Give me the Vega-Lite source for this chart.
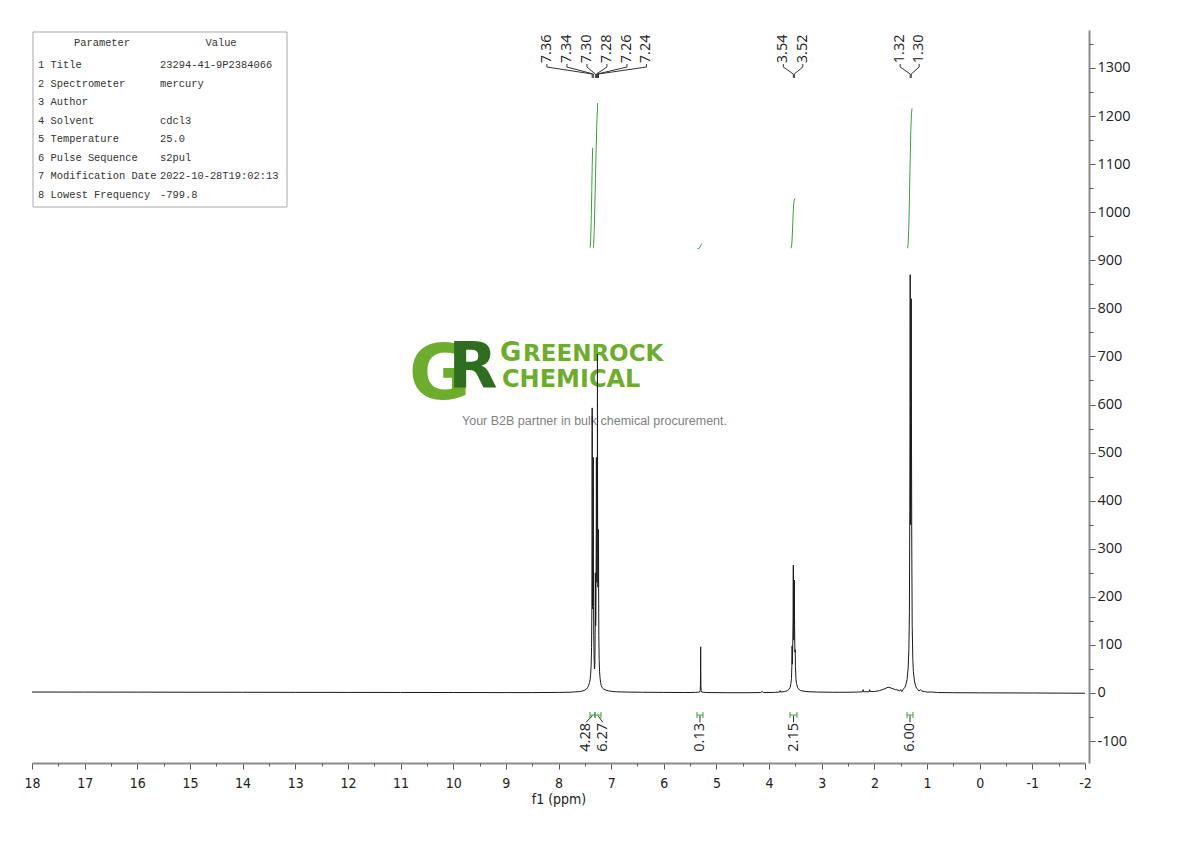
{
  "$schema": "https://vega.github.io/schema/vega-lite/v6.json",
  "width": 1053,
  "height": 733,
  "autosize": {"type": "none"},
  "padding": {"left": 32, "top": 30, "right": 105, "bottom": 78},
  "background": "white",
  "config": {"view": {"stroke": null}},
  "datasets": {
    "spectrum": [
      {"ppm": 18, "v": 2}, {"ppm": 17, "v": 1.9}, {"ppm": 16, "v": 1.8}, {"ppm": 15, "v": 1.6}, {"ppm": 14, "v": 1.5},
      {"ppm": 13, "v": 1.3}, {"ppm": 12, "v": 1.2}, {"ppm": 11, "v": 1.1}, {"ppm": 10, "v": 1}, {"ppm": 9, "v": 0.9},
      {"ppm": 8.5, "v": 0.9}, {"ppm": 8.0, "v": 1.2}, {"ppm": 7.8, "v": 1.6}, {"ppm": 7.7, "v": 2.2}, {"ppm": 7.6, "v": 3},
      {"ppm": 7.55, "v": 4}, {"ppm": 7.5, "v": 6}, {"ppm": 7.47, "v": 8}, {"ppm": 7.45, "v": 11}, {"ppm": 7.43, "v": 15},
      {"ppm": 7.41, "v": 22}, {"ppm": 7.4, "v": 28}, {"ppm": 7.39, "v": 38}, {"ppm": 7.38, "v": 58}, {"ppm": 7.372, "v": 95},
      {"ppm": 7.366, "v": 180}, {"ppm": 7.3625, "v": 330}, {"ppm": 7.36, "v": 593}, {"ppm": 7.3575, "v": 330}, {"ppm": 7.354, "v": 180},
      {"ppm": 7.35, "v": 175}, {"ppm": 7.346, "v": 230}, {"ppm": 7.3425, "v": 330}, {"ppm": 7.34, "v": 490}, {"ppm": 7.3375, "v": 300},
      {"ppm": 7.334, "v": 180}, {"ppm": 7.33, "v": 120}, {"ppm": 7.324, "v": 75}, {"ppm": 7.318, "v": 52}, {"ppm": 7.314, "v": 50},
      {"ppm": 7.31, "v": 60}, {"ppm": 7.306, "v": 95}, {"ppm": 7.3025, "v": 160}, {"ppm": 7.3, "v": 250}, {"ppm": 7.2975, "v": 170},
      {"ppm": 7.294, "v": 140}, {"ppm": 7.29, "v": 160}, {"ppm": 7.2855, "v": 260}, {"ppm": 7.2825, "v": 340}, {"ppm": 7.28, "v": 490},
      {"ppm": 7.2775, "v": 330}, {"ppm": 7.274, "v": 240}, {"ppm": 7.27, "v": 230}, {"ppm": 7.266, "v": 300}, {"ppm": 7.2625, "v": 430},
      {"ppm": 7.26, "v": 705}, {"ppm": 7.2575, "v": 430}, {"ppm": 7.254, "v": 260}, {"ppm": 7.25, "v": 220}, {"ppm": 7.246, "v": 250},
      {"ppm": 7.2425, "v": 280}, {"ppm": 7.24, "v": 340}, {"ppm": 7.2375, "v": 210}, {"ppm": 7.234, "v": 120}, {"ppm": 7.228, "v": 70},
      {"ppm": 7.22, "v": 45}, {"ppm": 7.21, "v": 30}, {"ppm": 7.2, "v": 22}, {"ppm": 7.19, "v": 16}, {"ppm": 7.17, "v": 11},
      {"ppm": 7.14, "v": 8}, {"ppm": 7.1, "v": 6}, {"ppm": 7.05, "v": 4.5}, {"ppm": 7.0, "v": 3.5}, {"ppm": 6.9, "v": 2.5},
      {"ppm": 6.7, "v": 2}, {"ppm": 6.4, "v": 1.5}, {"ppm": 6.0, "v": 1.2}, {"ppm": 5.6, "v": 1}, {"ppm": 5.4, "v": 1.2},
      {"ppm": 5.32, "v": 2}, {"ppm": 5.31, "v": 5}, {"ppm": 5.305, "v": 15}, {"ppm": 5.302, "v": 45}, {"ppm": 5.3, "v": 96},
      {"ppm": 5.298, "v": 45}, {"ppm": 5.295, "v": 15}, {"ppm": 5.29, "v": 5}, {"ppm": 5.28, "v": 2}, {"ppm": 5.2, "v": 1},
      {"ppm": 4.8, "v": 0.6}, {"ppm": 4.4, "v": 0.6}, {"ppm": 4.16, "v": 1}, {"ppm": 4.13, "v": 3.5}, {"ppm": 4.11, "v": 1},
      {"ppm": 3.9, "v": 1.2}, {"ppm": 3.8, "v": 2}, {"ppm": 3.79, "v": 5}, {"ppm": 3.78, "v": 2}, {"ppm": 3.7, "v": 3},
      {"ppm": 3.65, "v": 5}, {"ppm": 3.62, "v": 8}, {"ppm": 3.6, "v": 12}, {"ppm": 3.585, "v": 20}, {"ppm": 3.575, "v": 30},
      {"ppm": 3.568, "v": 55}, {"ppm": 3.563, "v": 98}, {"ppm": 3.558, "v": 60}, {"ppm": 3.552, "v": 90}, {"ppm": 3.545, "v": 150},
      {"ppm": 3.54, "v": 266}, {"ppm": 3.536, "v": 150}, {"ppm": 3.53, "v": 110}, {"ppm": 3.525, "v": 140}, {"ppm": 3.52, "v": 235},
      {"ppm": 3.516, "v": 140}, {"ppm": 3.51, "v": 85}, {"ppm": 3.503, "v": 90}, {"ppm": 3.5, "v": 55}, {"ppm": 3.49, "v": 30},
      {"ppm": 3.48, "v": 20}, {"ppm": 3.46, "v": 12}, {"ppm": 3.44, "v": 8}, {"ppm": 3.4, "v": 5}, {"ppm": 3.3, "v": 3},
      {"ppm": 3.1, "v": 2}, {"ppm": 2.8, "v": 1.5}, {"ppm": 2.5, "v": 1.5}, {"ppm": 2.3, "v": 2}, {"ppm": 2.225, "v": 2.5},
      {"ppm": 2.215, "v": 7}, {"ppm": 2.205, "v": 2.5}, {"ppm": 2.1, "v": 2.5}, {"ppm": 2.09, "v": 7}, {"ppm": 2.08, "v": 3},
      {"ppm": 2.0, "v": 3}, {"ppm": 1.9, "v": 5}, {"ppm": 1.8, "v": 9}, {"ppm": 1.74, "v": 12}, {"ppm": 1.7, "v": 11},
      {"ppm": 1.65, "v": 9}, {"ppm": 1.6, "v": 7}, {"ppm": 1.55, "v": 6}, {"ppm": 1.52, "v": 4}, {"ppm": 1.5, "v": 7},
      {"ppm": 1.48, "v": 3}, {"ppm": 1.45, "v": 8}, {"ppm": 1.42, "v": 12}, {"ppm": 1.4, "v": 18}, {"ppm": 1.38, "v": 28},
      {"ppm": 1.36, "v": 50}, {"ppm": 1.345, "v": 90}, {"ppm": 1.335, "v": 170}, {"ppm": 1.328, "v": 380}, {"ppm": 1.3235, "v": 600},
      {"ppm": 1.32, "v": 870}, {"ppm": 1.3165, "v": 600}, {"ppm": 1.312, "v": 380}, {"ppm": 1.31, "v": 350}, {"ppm": 1.307, "v": 420},
      {"ppm": 1.3035, "v": 580}, {"ppm": 1.3, "v": 820}, {"ppm": 1.2965, "v": 560}, {"ppm": 1.29, "v": 300}, {"ppm": 1.282, "v": 140},
      {"ppm": 1.27, "v": 70}, {"ppm": 1.26, "v": 45}, {"ppm": 1.24, "v": 25}, {"ppm": 1.22, "v": 16}, {"ppm": 1.2, "v": 10},
      {"ppm": 1.17, "v": 7}, {"ppm": 1.15, "v": 4}, {"ppm": 1.13, "v": 7}, {"ppm": 1.1, "v": 4}, {"ppm": 1.05, "v": 3},
      {"ppm": 1.0, "v": 2}, {"ppm": 0.9, "v": 2}, {"ppm": 0.8, "v": 1}, {"ppm": 0.5, "v": 0.6}, {"ppm": 0, "v": 0.3},
      {"ppm": -1, "v": 0}, {"ppm": -2, "v": -0.5}
    ],
    "integralCurves": [
      {"g": "a", "ppm": 7.402, "v": 926}, {"g": "a", "ppm": 7.396, "v": 929}, {"g": "a", "ppm": 7.388, "v": 945},
      {"g": "a", "ppm": 7.378, "v": 985}, {"g": "a", "ppm": 7.368, "v": 1045}, {"g": "a", "ppm": 7.36, "v": 1095},
      {"g": "a", "ppm": 7.351, "v": 1134},
      {"g": "b", "ppm": 7.339, "v": 926}, {"g": "b", "ppm": 7.332, "v": 932}, {"g": "b", "ppm": 7.322, "v": 960},
      {"g": "b", "ppm": 7.31, "v": 1010}, {"g": "b", "ppm": 7.298, "v": 1070}, {"g": "b", "ppm": 7.285, "v": 1130},
      {"g": "b", "ppm": 7.272, "v": 1185}, {"g": "b", "ppm": 7.256, "v": 1227},
      {"g": "c", "ppm": 5.36, "v": 924}, {"g": "c", "ppm": 5.33, "v": 925}, {"g": "c", "ppm": 5.31, "v": 928},
      {"g": "c", "ppm": 5.29, "v": 933}, {"g": "c", "ppm": 5.27, "v": 935},
      {"g": "d", "ppm": 3.585, "v": 925}, {"g": "d", "ppm": 3.57, "v": 932}, {"g": "d", "ppm": 3.558, "v": 955},
      {"g": "d", "ppm": 3.546, "v": 990}, {"g": "d", "ppm": 3.534, "v": 1015}, {"g": "d", "ppm": 3.522, "v": 1025},
      {"g": "d", "ppm": 3.509, "v": 1029},
      {"g": "e", "ppm": 1.37, "v": 925}, {"g": "e", "ppm": 1.358, "v": 935}, {"g": "e", "ppm": 1.345, "v": 975},
      {"g": "e", "ppm": 1.333, "v": 1040}, {"g": "e", "ppm": 1.32, "v": 1110}, {"g": "e", "ppm": 1.308, "v": 1170},
      {"g": "e", "ppm": 1.296, "v": 1205}, {"g": "e", "ppm": 1.285, "v": 1216}
    ],
    "peaks": [
      {"shift": 7.36, "labelAt": 8.22}, {"shift": 7.34, "labelAt": 7.84}, {"shift": 7.30, "labelAt": 7.46},
      {"shift": 7.28, "labelAt": 7.08}, {"shift": 7.26, "labelAt": 6.70}, {"shift": 7.24, "labelAt": 6.33},
      {"shift": 3.54, "labelAt": 3.73}, {"shift": 3.52, "labelAt": 3.36},
      {"shift": 1.32, "labelAt": 1.51}, {"shift": 1.30, "labelAt": 1.15}
    ],
    "integrals": [
      {"integral": 4.28, "from": 7.402, "to": 7.307, "center": 7.355, "labelAt": 7.478},
      {"integral": 6.27, "from": 7.307, "to": 7.193, "center": 7.25, "labelAt": 7.158},
      {"integral": 0.13, "from": 5.37, "to": 5.256, "center": 5.313, "labelAt": 5.313},
      {"integral": 2.15, "from": 3.603, "to": 3.47, "center": 3.536, "labelAt": 3.536},
      {"integral": 6.00, "from": 1.381, "to": 1.267, "center": 1.324, "labelAt": 1.324}
    ],
    "params": [
      {"row": 1, "name": "1 Title", "value": "23294-41-9P2384066"},
      {"row": 2, "name": "2 Spectrometer", "value": "mercury"},
      {"row": 3, "name": "3 Author", "value": ""},
      {"row": 4, "name": "4 Solvent", "value": "cdcl3"},
      {"row": 5, "name": "5 Temperature", "value": "25.0"},
      {"row": 6, "name": "6 Pulse Sequence", "value": "s2pul"},
      {"row": 7, "name": "7 Modification Date", "value": "2022-10-28T19:02:13"},
      {"row": 8, "name": "8 Lowest Frequency", "value": "-799.8"}
    ]
  },
  "layer": [
    {
      "resolve": {"axis": {"x": "independent", "y": "independent"}},
      "layer": [
        {
          "data": {"values": [{}]},
          "layer": [
            {"mark": {"type": "text", "text": "G", "font": "DejaVu Sans", "fontWeight": "bold", "fontSize": 76, "align": "center", "baseline": "alphabetic", "color": "#6cad2b"},
             "encoding": {"x": {"datum": 10.25, "axis": null}, "y": {"datum": 611, "axis": null}}},
            {"mark": {"type": "text", "text": "R", "font": "DejaVu Sans", "fontWeight": "bold", "fontSize": 64, "align": "center", "baseline": "alphabetic", "color": "#2f6e1f"},
             "encoding": {"x": {"datum": 9.624, "axis": null}, "y": {"datum": 634, "axis": null}}},
            {"mark": {"type": "text", "text": "G", "font": "DejaVu Sans", "fontWeight": "bold", "fontSize": 26, "align": "left", "baseline": "alphabetic", "color": "#6cad2b"},
             "encoding": {"x": {"datum": 9.111, "axis": null}, "y": {"datum": 689.5, "axis": null}}},
            {"mark": {"type": "text", "text": "REENROCK", "font": "DejaVu Sans", "fontWeight": "bold", "fontSize": 23, "align": "left", "baseline": "alphabetic", "color": "#6cad2b"},
             "encoding": {"x": {"datum": 8.674, "axis": null}, "y": {"datum": 689.5, "axis": null}}},
            {"mark": {"type": "text", "text": "CHEMICAL", "font": "DejaVu Sans", "fontWeight": "bold", "fontSize": 24, "align": "left", "baseline": "alphabetic", "color": "#6cad2b"},
             "encoding": {"x": {"datum": 9.073, "axis": null}, "y": {"datum": 636.4, "axis": null}}},
            {"mark": {"type": "text", "text": "Your B2B partner in bulk chemical procurement.", "font": "Liberation Sans", "fontSize": 12.5, "align": "center", "baseline": "middle", "color": "#7f7f7f"},
             "encoding": {"x": {"datum": 7.316, "axis": null}, "y": {"datum": 565.7, "axis": null}}}
          ]
        },
        {
          "data": {"name": "spectrum"},
          "mark": {"type": "line", "color": "#1a1a1a", "strokeWidth": 1},
          "encoding": {
            "x": {
              "field": "ppm", "type": "quantitative",
              "scale": {"domain": [-2, 18], "reverse": true, "nice": false, "zero": false},
              "axis": {
                "orient": "bottom",
                "title": "f1 (ppm)",
                "values": [-2, -1, 0, 1, 2, 3, 4, 5, 6, 7, 8, 9, 10, 11, 12, 13, 14, 15, 16, 17, 18],
                "labelExpr": "'' + datum.value",
                "tickSize": 6,
                "grid": false,
                "domainColor": "#8c8c8c", "domainWidth": 2,
                "tickColor": "#555555", "tickWidth": 1,
                "labelFont": "Liberation Sans Narrow, DejaVu Sans Condensed, sans-serif",
                "labelFontSize": 14, "labelColor": "#222222", "labelPadding": 7,
                "labelOverlap": false, "labelFlush": false, "labelBound": false,
                "titleFont": "Liberation Sans Narrow, DejaVu Sans Condensed, sans-serif",
                "titleFontSize": 14, "titleFontWeight": "normal", "titleColor": "#222222", "titlePadding": 2
              }
            },
            "y": {
              "field": "v", "type": "quantitative",
              "scale": {"domain": [-145.6, 1379], "nice": false, "zero": false},
              "axis": {
                "orient": "right", "offset": 4, "title": null,
                "values": [-100, 0, 100, 200, 300, 400, 500, 600, 700, 800, 900, 1000, 1100, 1200, 1300],
                "labelExpr": "'' + datum.value",
                "tickSize": 6,
                "grid": false,
                "domainColor": "#8c8c8c", "domainWidth": 2,
                "tickColor": "#555555", "tickWidth": 1,
                "labelFont": "Open Sans", "labelFontSize": 14.5, "labelColor": "#222222", "labelPadding": 2,
                "labelOverlap": false, "labelFlush": false, "labelBound": false
              }
            }
          }
        },
        {
          "data": {"values": [{}]},
          "mark": {"type": "point", "opacity": 0},
          "encoding": {
            "x": {"datum": 5, "type": "quantitative", "axis": {
              "orient": "bottom", "title": null, "labels": false, "domain": false, "grid": false,
              "values": [-1.5, -0.5, 0.5, 1.5, 2.5, 3.5, 4.5, 5.5, 6.5, 7.5, 8.5, 9.5, 10.5, 11.5, 12.5, 13.5, 14.5, 15.5, 16.5, 17.5],
              "tickSize": 3, "tickColor": "#555555", "tickWidth": 1}},
            "y": {"datum": 0, "type": "quantitative", "axis": {
              "orient": "right", "offset": 4, "title": null, "labels": false, "domain": false, "grid": false,
              "values": [-50, 50, 150, 250, 350, 450, 550, 650, 750, 850, 950, 1050, 1150, 1250, 1350],
              "tickSize": 4, "tickColor": "#555555", "tickWidth": 1}}
          }
        },
        {
          "data": {"name": "integralCurves"},
          "mark": {"type": "line", "color": "#3c9f3c", "strokeWidth": 1},
          "encoding": {
            "x": {"field": "ppm", "type": "quantitative", "axis": null},
            "y": {"field": "v", "type": "quantitative", "axis": null},
            "detail": {"field": "g"}
          }
        },
        {
          "data": {"name": "peaks"},
          "layer": [
            {"mark": {"type": "rule", "color": "#333333", "strokeWidth": 1},
             "encoding": {"x": {"field": "labelAt", "type": "quantitative", "axis": null}, "y": {"datum": 1308.3, "axis": null}, "y2": {"datum": 1302}}},
            {"mark": {"type": "rule", "color": "#333333", "strokeWidth": 1},
             "encoding": {"x": {"field": "labelAt", "type": "quantitative", "axis": null}, "x2": {"field": "shift"}, "y": {"datum": 1302, "axis": null}, "y2": {"datum": 1287.5}}},
            {"mark": {"type": "rule", "color": "#333333", "strokeWidth": 1},
             "encoding": {"x": {"field": "shift", "type": "quantitative", "axis": null}, "y": {"datum": 1287.5, "axis": null}, "y2": {"datum": 1279.2}}},
            {"mark": {"type": "text", "angle": 270, "align": "left", "baseline": "middle", "font": "Open Sans", "fontSize": 14.5, "color": "#222222"},
             "encoding": {"x": {"field": "labelAt", "type": "quantitative", "axis": null}, "y": {"datum": 1310, "axis": null}, "text": {"field": "shift", "type": "quantitative", "format": ".2f"}}}
          ]
        },
        {
          "data": {"name": "integrals"},
          "layer": [
            {"mark": {"type": "rule", "color": "#3c9f3c", "strokeWidth": 1},
             "encoding": {"x": {"field": "from", "type": "quantitative", "axis": null}, "x2": {"field": "to"}, "y": {"datum": -45.8, "axis": null}}},
            {"mark": {"type": "rule", "color": "#3c9f3c", "strokeWidth": 1},
             "encoding": {"x": {"field": "from", "type": "quantitative", "axis": null}, "y": {"datum": -39.5, "axis": null}, "y2": {"datum": -52}}},
            {"mark": {"type": "rule", "color": "#3c9f3c", "strokeWidth": 1},
             "encoding": {"x": {"field": "to", "type": "quantitative", "axis": null}, "y": {"datum": -39.5, "axis": null}, "y2": {"datum": -52}}},
            {"mark": {"type": "rule", "color": "#333333", "strokeWidth": 1},
             "encoding": {"x": {"field": "center", "type": "quantitative", "axis": null}, "x2": {"field": "labelAt"}, "y": {"datum": -47, "axis": null}, "y2": {"datum": -61}}},
            {"mark": {"type": "text", "angle": 270, "align": "right", "baseline": "middle", "font": "Open Sans", "fontSize": 14.5, "color": "#222222"},
             "encoding": {"x": {"field": "labelAt", "type": "quantitative", "axis": null}, "y": {"datum": -62.4, "axis": null}, "text": {"field": "integral", "type": "quantitative", "format": ".2f"}}}
          ]
        }
      ]
    },
    {
      "layer": [
        {
          "data": {"values": [{}]},
          "mark": {"type": "rect", "fill": "white", "fillOpacity": 0, "stroke": "#a8a8a8", "strokeWidth": 1},
          "encoding": {
            "x": {"datum": 17.981, "axis": null},
            "x2": {"datum": 13.157},
            "y": {"datum": -0.777, "type": "quantitative", "axis": null, "scale": {"domain": [-0.8846, 38.585], "reverse": true, "nice": false, "zero": false}},
            "y2": {"datum": 8.646}
          }
        },
        {
          "data": {"values": [{}]},
          "layer": [
            {"mark": {"type": "text", "text": "Parameter", "font": "Liberation Mono", "fontSize": 10.4, "align": "center", "baseline": "middle", "color": "#333333"},
             "encoding": {"x": {"datum": 16.67, "axis": null}, "y": {"datum": -0.185, "type": "quantitative", "axis": null}}},
            {"mark": {"type": "text", "text": "Value", "font": "Liberation Mono", "fontSize": 10.4, "align": "center", "baseline": "middle", "color": "#333333"},
             "encoding": {"x": {"datum": 14.41, "axis": null}, "y": {"datum": -0.185, "type": "quantitative", "axis": null}}}
          ]
        },
        {
          "data": {"name": "params"},
          "layer": [
            {"mark": {"type": "text", "font": "Liberation Mono", "fontSize": 10.4, "align": "left", "baseline": "middle", "color": "#333333"},
             "encoding": {"x": {"datum": 17.886, "axis": null}, "y": {"field": "row", "type": "quantitative", "axis": null}, "text": {"field": "name"}}},
            {"mark": {"type": "text", "font": "Liberation Mono", "fontSize": 10.4, "align": "left", "baseline": "middle", "color": "#333333"},
             "encoding": {"x": {"datum": 15.569, "axis": null}, "y": {"field": "row", "type": "quantitative", "axis": null}, "text": {"field": "value"}}}
          ]
        }
      ]
    }
  ],
  "resolve": {"scale": {"y": "independent"}}
}
